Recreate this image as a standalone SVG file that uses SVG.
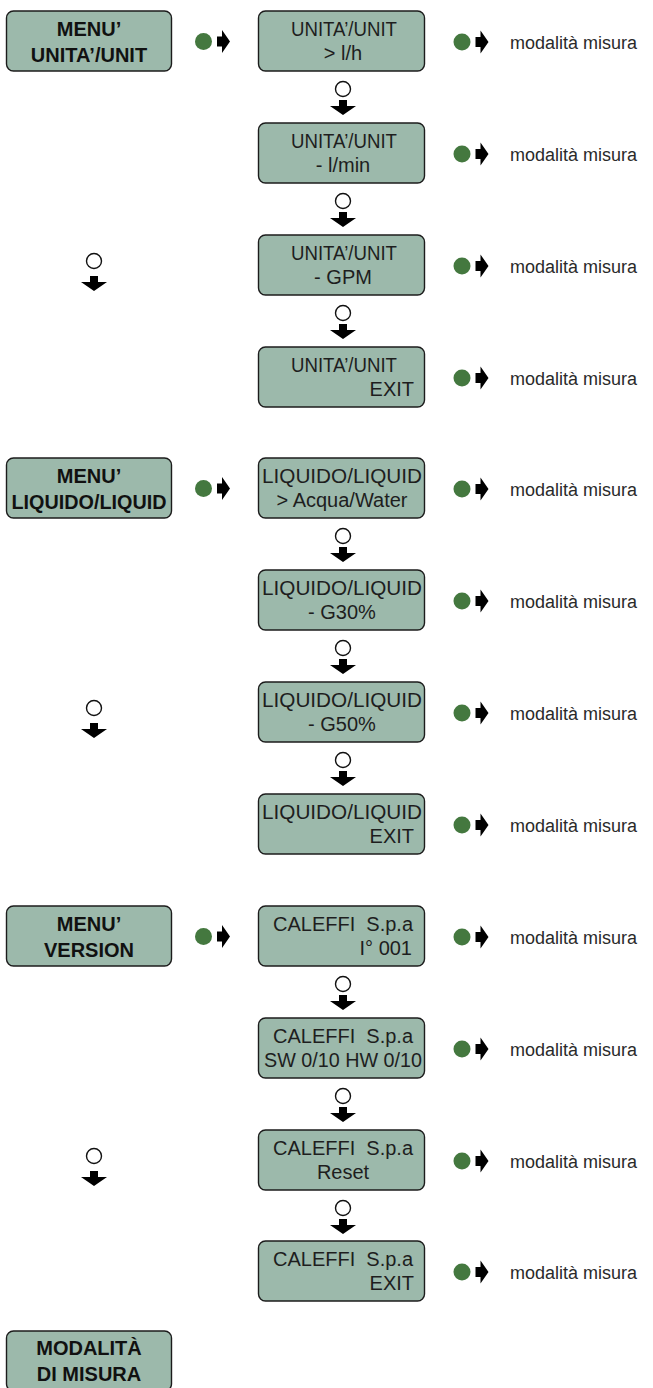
<svg xmlns="http://www.w3.org/2000/svg" xmlns:xlink="http://www.w3.org/1999/xlink" width="653" height="1388" viewBox="0 0 653 1388">
  <style>
    .box { fill: #9cb9ab; stroke: #1c1c1c; stroke-width: 1.4; }
    .lcd { font-family: "Liberation Sans", Arial, sans-serif; font-size: 20px; fill: #1e1e1e; text-anchor: middle; }
    .lcd.r { text-anchor: end; }
    .menu { font-family: "Liberation Sans", Arial, sans-serif; font-size: 20px; font-weight: bold; fill: #111; text-anchor: middle; }
    .note { font-family: "Liberation Sans", Arial, sans-serif; font-size: 18px; fill: #2a2a2a; }
    .ring { fill: #fff; stroke: #111; stroke-width: 1.4; }
    .dot { fill: #44783f; }
    .arr { fill: #000; }
  </style>
  <defs>
    <!-- block arrow pointing down, origin at top centre -->
    <path id="aDown" class="arr" d="M-4,0 H4 V6 H13 L0,15 L-13,6 H-4 Z"/>
    <!-- block arrow pointing right, origin at left middle -->
    <path id="aRight" class="arr" d="M0,-5 H5 V-11.5 L13,0 L5,11.5 V5 H0 Z"/>
  </defs>

  <rect width="653" height="1388" fill="#fff"/>

  <!-- ===== menu nodes ===== -->
  <g id="menu-unit">
    <rect class="box" x="6.5" y="11" width="165" height="60" rx="7"/>
    <text class="menu" x="89" y="36">MENU’</text>
    <text class="menu" x="89" y="62">UNITA’/UNIT</text>
  </g>
  <g id="menu-liquid">
    <rect class="box" x="6.5" y="458" width="165" height="60" rx="7"/>
    <text class="menu" x="89" y="483">MENU’</text>
    <text class="menu" x="89" y="509" textLength="155" lengthAdjust="spacingAndGlyphs">LIQUIDO/LIQUID</text>
  </g>
  <g id="menu-version">
    <rect class="box" x="6.5" y="906" width="165" height="60" rx="7"/>
    <text class="menu" x="89" y="931">MENU’</text>
    <text class="menu" x="89" y="957">VERSION</text>
  </g>
  <g id="menu-measure">
    <rect class="box" x="6.5" y="1331" width="165" height="60" rx="7"/>
    <text class="menu" x="89" y="1355">MODALITÀ</text>
    <text class="menu" x="89" y="1381">DI MISURA</text>
  </g>

  <!-- ===== unit screens ===== -->
  <g id="unit-lh">
    <rect class="box" x="258.5" y="11" width="166" height="60" rx="7"/>
    <text class="lcd" x="344" y="36" textLength="106" lengthAdjust="spacingAndGlyphs">UNITA’/UNIT</text>
    <text class="lcd" x="343" y="60">&gt; l/h</text>
  </g>
  <g id="unit-lmin">
    <rect class="box" x="258.5" y="123" width="166" height="60" rx="7"/>
    <text class="lcd" x="344" y="148" textLength="106" lengthAdjust="spacingAndGlyphs">UNITA’/UNIT</text>
    <text class="lcd" x="343" y="172">- l/min</text>
  </g>
  <g id="unit-gpm">
    <rect class="box" x="258.5" y="235" width="166" height="60" rx="7"/>
    <text class="lcd" x="344" y="260" textLength="106" lengthAdjust="spacingAndGlyphs">UNITA’/UNIT</text>
    <text class="lcd" x="343" y="284">- GPM</text>
  </g>
  <g id="unit-exit">
    <rect class="box" x="258.5" y="347" width="166" height="60" rx="7"/>
    <text class="lcd" x="344" y="372" textLength="106" lengthAdjust="spacingAndGlyphs">UNITA’/UNIT</text>
    <text class="lcd r" x="414" y="396">EXIT</text>
  </g>

  <!-- ===== liquid screens ===== -->
  <g id="liquid-water">
    <rect class="box" x="258.5" y="458" width="166" height="60" rx="7"/>
    <text class="lcd" x="342" y="483" textLength="160" lengthAdjust="spacingAndGlyphs">LIQUIDO/LIQUID</text>
    <text class="lcd" x="342" y="507">&gt; Acqua/Water</text>
  </g>
  <g id="liquid-g30">
    <rect class="box" x="258.5" y="570" width="166" height="60" rx="7"/>
    <text class="lcd" x="342" y="595" textLength="160" lengthAdjust="spacingAndGlyphs">LIQUIDO/LIQUID</text>
    <text class="lcd" x="342" y="619">- G30%</text>
  </g>
  <g id="liquid-g50">
    <rect class="box" x="258.5" y="682" width="166" height="60" rx="7"/>
    <text class="lcd" x="342" y="707" textLength="160" lengthAdjust="spacingAndGlyphs">LIQUIDO/LIQUID</text>
    <text class="lcd" x="342" y="731">- G50%</text>
  </g>
  <g id="liquid-exit">
    <rect class="box" x="258.5" y="794" width="166" height="60" rx="7"/>
    <text class="lcd" x="342" y="819" textLength="160" lengthAdjust="spacingAndGlyphs">LIQUIDO/LIQUID</text>
    <text class="lcd r" x="414" y="843">EXIT</text>
  </g>

  <!-- ===== version screens ===== -->
  <g id="version-id">
    <rect class="box" x="258.5" y="906" width="166" height="60" rx="7"/>
    <text class="lcd" x="343" y="931" xml:space="preserve">CALEFFI  S.p.a</text>
    <text class="lcd r" x="412" y="955">I° 001</text>
  </g>
  <g id="version-swhw">
    <rect class="box" x="258.5" y="1018" width="166" height="60" rx="7"/>
    <text class="lcd" x="343" y="1043" xml:space="preserve">CALEFFI  S.p.a</text>
    <text class="lcd" x="343" y="1067" textLength="158" lengthAdjust="spacingAndGlyphs">SW 0/10 HW 0/10</text>
  </g>
  <g id="version-reset">
    <rect class="box" x="258.5" y="1130" width="166" height="60" rx="7"/>
    <text class="lcd" x="343" y="1155" xml:space="preserve">CALEFFI  S.p.a</text>
    <text class="lcd" x="343" y="1179">Reset</text>
  </g>
  <g id="version-exit">
    <rect class="box" x="258.5" y="1241" width="166" height="60" rx="7"/>
    <text class="lcd" x="343" y="1266" xml:space="preserve">CALEFFI  S.p.a</text>
    <text class="lcd r" x="414" y="1290">EXIT</text>
  </g>

  <!-- ===== exit labels ===== -->
  <g id="exit-labels">
    <text class="note" x="510" y="49">modalità misura</text>
    <text class="note" x="510" y="161">modalità misura</text>
    <text class="note" x="510" y="273">modalità misura</text>
    <text class="note" x="510" y="385">modalità misura</text>
    <text class="note" x="510" y="496">modalità misura</text>
    <text class="note" x="510" y="608">modalità misura</text>
    <text class="note" x="510" y="720">modalità misura</text>
    <text class="note" x="510" y="832">modalità misura</text>
    <text class="note" x="510" y="944">modalità misura</text>
    <text class="note" x="510" y="1056">modalità misura</text>
    <text class="note" x="510" y="1168">modalità misura</text>
    <text class="note" x="510" y="1279">modalità misura</text>
  </g>

  <!-- ===== connectors: key symbols (green = enter, ring = scroll) ===== -->
  <g id="connectors">
    <!-- menu -> first screen -->
    <circle class="dot" cx="203.5" cy="41.5" r="8.5"/><use xlink:href="#aRight" x="217" y="41.5"/>
    <circle class="dot" cx="203.5" cy="488.5" r="8.5"/><use xlink:href="#aRight" x="217" y="488.5"/>
    <circle class="dot" cx="203.5" cy="936.5" r="8.5"/><use xlink:href="#aRight" x="217" y="936.5"/>

    <!-- menu -> next menu -->
    <circle class="ring" cx="94" cy="261" r="7.5"/><use xlink:href="#aDown" x="94" y="276"/>
    <circle class="ring" cx="94" cy="708" r="7.5"/><use xlink:href="#aDown" x="94" y="723"/>
    <circle class="ring" cx="94" cy="1156" r="7.5"/><use xlink:href="#aDown" x="94" y="1171"/>

    <!-- screen -> next screen -->
    <circle class="ring" cx="343" cy="89" r="7.5"/><use xlink:href="#aDown" x="343" y="100"/>
    <circle class="ring" cx="343" cy="201" r="7.5"/><use xlink:href="#aDown" x="343" y="212"/>
    <circle class="ring" cx="343" cy="313" r="7.5"/><use xlink:href="#aDown" x="343" y="324"/>

    <circle class="ring" cx="343" cy="536" r="7.5"/><use xlink:href="#aDown" x="343" y="547"/>
    <circle class="ring" cx="343" cy="648" r="7.5"/><use xlink:href="#aDown" x="343" y="659"/>
    <circle class="ring" cx="343" cy="760" r="7.5"/><use xlink:href="#aDown" x="343" y="771"/>

    <circle class="ring" cx="343" cy="984" r="7.5"/><use xlink:href="#aDown" x="343" y="995"/>
    <circle class="ring" cx="343" cy="1096" r="7.5"/><use xlink:href="#aDown" x="343" y="1107"/>
    <circle class="ring" cx="343" cy="1208" r="7.5"/><use xlink:href="#aDown" x="343" y="1219"/>

    <!-- screen -> measure mode -->
    <circle class="dot" cx="462" cy="42" r="8.5"/><use xlink:href="#aRight" x="475.5" y="42"/>
    <circle class="dot" cx="462" cy="154" r="8.5"/><use xlink:href="#aRight" x="475.5" y="154"/>
    <circle class="dot" cx="462" cy="266" r="8.5"/><use xlink:href="#aRight" x="475.5" y="266"/>
    <circle class="dot" cx="462" cy="378" r="8.5"/><use xlink:href="#aRight" x="475.5" y="378"/>
    <circle class="dot" cx="462" cy="489" r="8.5"/><use xlink:href="#aRight" x="475.5" y="489"/>
    <circle class="dot" cx="462" cy="601" r="8.5"/><use xlink:href="#aRight" x="475.5" y="601"/>
    <circle class="dot" cx="462" cy="713" r="8.5"/><use xlink:href="#aRight" x="475.5" y="713"/>
    <circle class="dot" cx="462" cy="825" r="8.5"/><use xlink:href="#aRight" x="475.5" y="825"/>
    <circle class="dot" cx="462" cy="937" r="8.5"/><use xlink:href="#aRight" x="475.5" y="937"/>
    <circle class="dot" cx="462" cy="1049" r="8.5"/><use xlink:href="#aRight" x="475.5" y="1049"/>
    <circle class="dot" cx="462" cy="1161" r="8.5"/><use xlink:href="#aRight" x="475.5" y="1161"/>
    <circle class="dot" cx="462" cy="1272" r="8.5"/><use xlink:href="#aRight" x="475.5" y="1272"/>
  </g>
</svg>
